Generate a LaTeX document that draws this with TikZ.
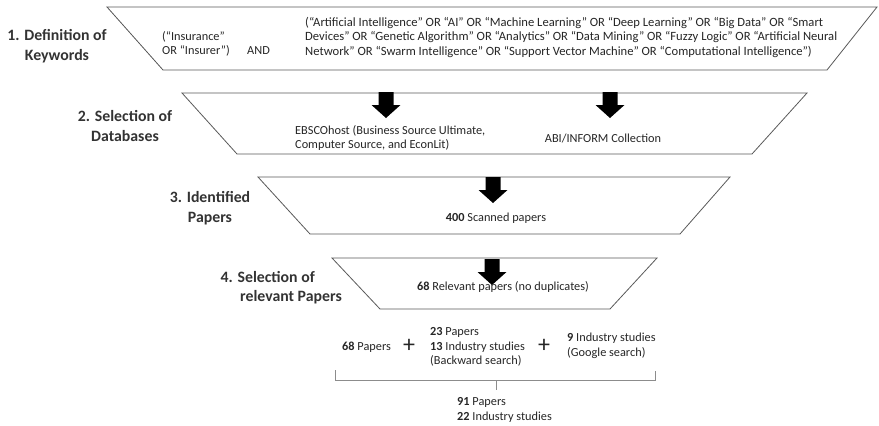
\documentclass[tikz,border=0pt]{standalone}
\usepackage{fontspec}
\setmainfont{Carlito}
\begin{document}
\begin{tikzpicture}[x=1pt,y=-1pt,
  funnel/.style={draw=black!65, line width=0.8pt, fill=white},
  lab/.style={font=\bfseries\fontsize{15.8}{20}\selectfont, text=black!80, align=center, inner sep=0pt},
  txt/.style={font=\fontsize{12.3}{14.5}\selectfont, text=black!85, inner sep=0pt},
  kwtxt/.style={font=\fontsize{12.6}{14.5}\selectfont, text=black!85, inner sep=0pt},
  brace/.style={draw=black!45, line width=0.8pt},
  plus/.style={font=\fontsize{24}{24}\selectfont, text=black!85, inner sep=0pt},
  downarrow/.pic={\fill[black] (-7.5,0) -- (7.5,0) -- (7.5,13) -- (14.5,13) -- (0,26) -- (-14.5,13) -- (-7.5,13) -- cycle;}
]
\useasboundingbox (0,0) rectangle (879,426);
% funnel stages
\draw[funnel] (107,7) -- (877,7) -- (827,70) -- (163,70) -- cycle;
\draw[funnel] (182,93) -- (807,93) -- (752,154) -- (237,154) -- cycle;
\draw[funnel] (258,177) -- (730,177) -- (680,234) -- (310,234) -- cycle;
\draw[funnel] (332,258) -- (657,258) -- (610,309) -- (380,309) -- cycle;
% block arrows
\pic at (386,92) {downarrow};
\pic at (610,92) {downarrow};
\pic at (493,177) {downarrow};
\pic at (492,259) {downarrow};
% stage labels
\node[lab] (lab1) at (57,46) {1. Definition of\\Keywords};
\node[lab] (lab2) at (125,126) {2. Selection of\\Databases};
\node[lab] (lab3) at (210,208) {3. Identified\\Papers};
\node[lab, anchor=east] (lab4a) at (315,277) {4. Selection of};
\node[lab, anchor=east] (lab4b) at (342,297) {relevant Papers};
% stage 1 texts
\node[txt, anchor=west, align=left] (ins) at (162,44) {(``Insurance''\\OR ``Insurer'')};
\node[txt, anchor=west] (and) at (247,51) {AND};
\node[kwtxt, anchor=west, align=left] (kw) at (305,37) {(``Artificial Intelligence'' OR ``AI'' OR ``Machine Learning'' OR ``Deep Learning'' OR ``Big Data'' OR ``Smart\\Devices'' OR ``Genetic Algorithm'' OR ``Analytics'' OR ``Data Mining'' OR ``Fuzzy Logic'' OR ``Artificial Neural\\Network'' OR ``Swarm Intelligence'' OR ``Support Vector Machine'' OR ``Computational Intelligence'')};
% stage 2 texts
\node[txt, anchor=west, align=left] (ebsco) at (295,138) {EBSCOhost (Business Source Ultimate,\\Computer Source, and EconLit)};
\node[txt] (abi) at (603,138) {ABI/INFORM Collection};
% stage 3 and 4 texts
\node[txt] (scan) at (496,218) {\textbf{400} Scanned papers};
\node[txt] (rel) at (503,287) {\textbf{68} Relevant papers (no duplicates)};
% sum
\node[txt, anchor=west] (p68) at (342,347) {\textbf{68} Papers};
\node[plus] (plus1) at (409,346) {+};
\node[txt, anchor=west, align=left] (back) at (430,347) {\textbf{23} Papers\\\textbf{13} Industry studies\\(Backward search)};
\node[plus] (plus2) at (544,346) {+};
\node[txt, anchor=west, align=left] (goog) at (567,346) {\textbf{9} Industry studies\\(Google search)};
\coordinate (bl) at (335,370);
\coordinate (br) at (655,371);
\coordinate (bm) at (496,380);
\draw[brace] (bl) -- (bl |- bm) -- (br |- bm) -- (br);
\draw[brace] (bm) -- ++(0,10);
\node[txt, anchor=west, align=left] (total) at (457,410) {\textbf{91} Papers\\\textbf{22} Industry studies};
\end{tikzpicture}
\end{document}
